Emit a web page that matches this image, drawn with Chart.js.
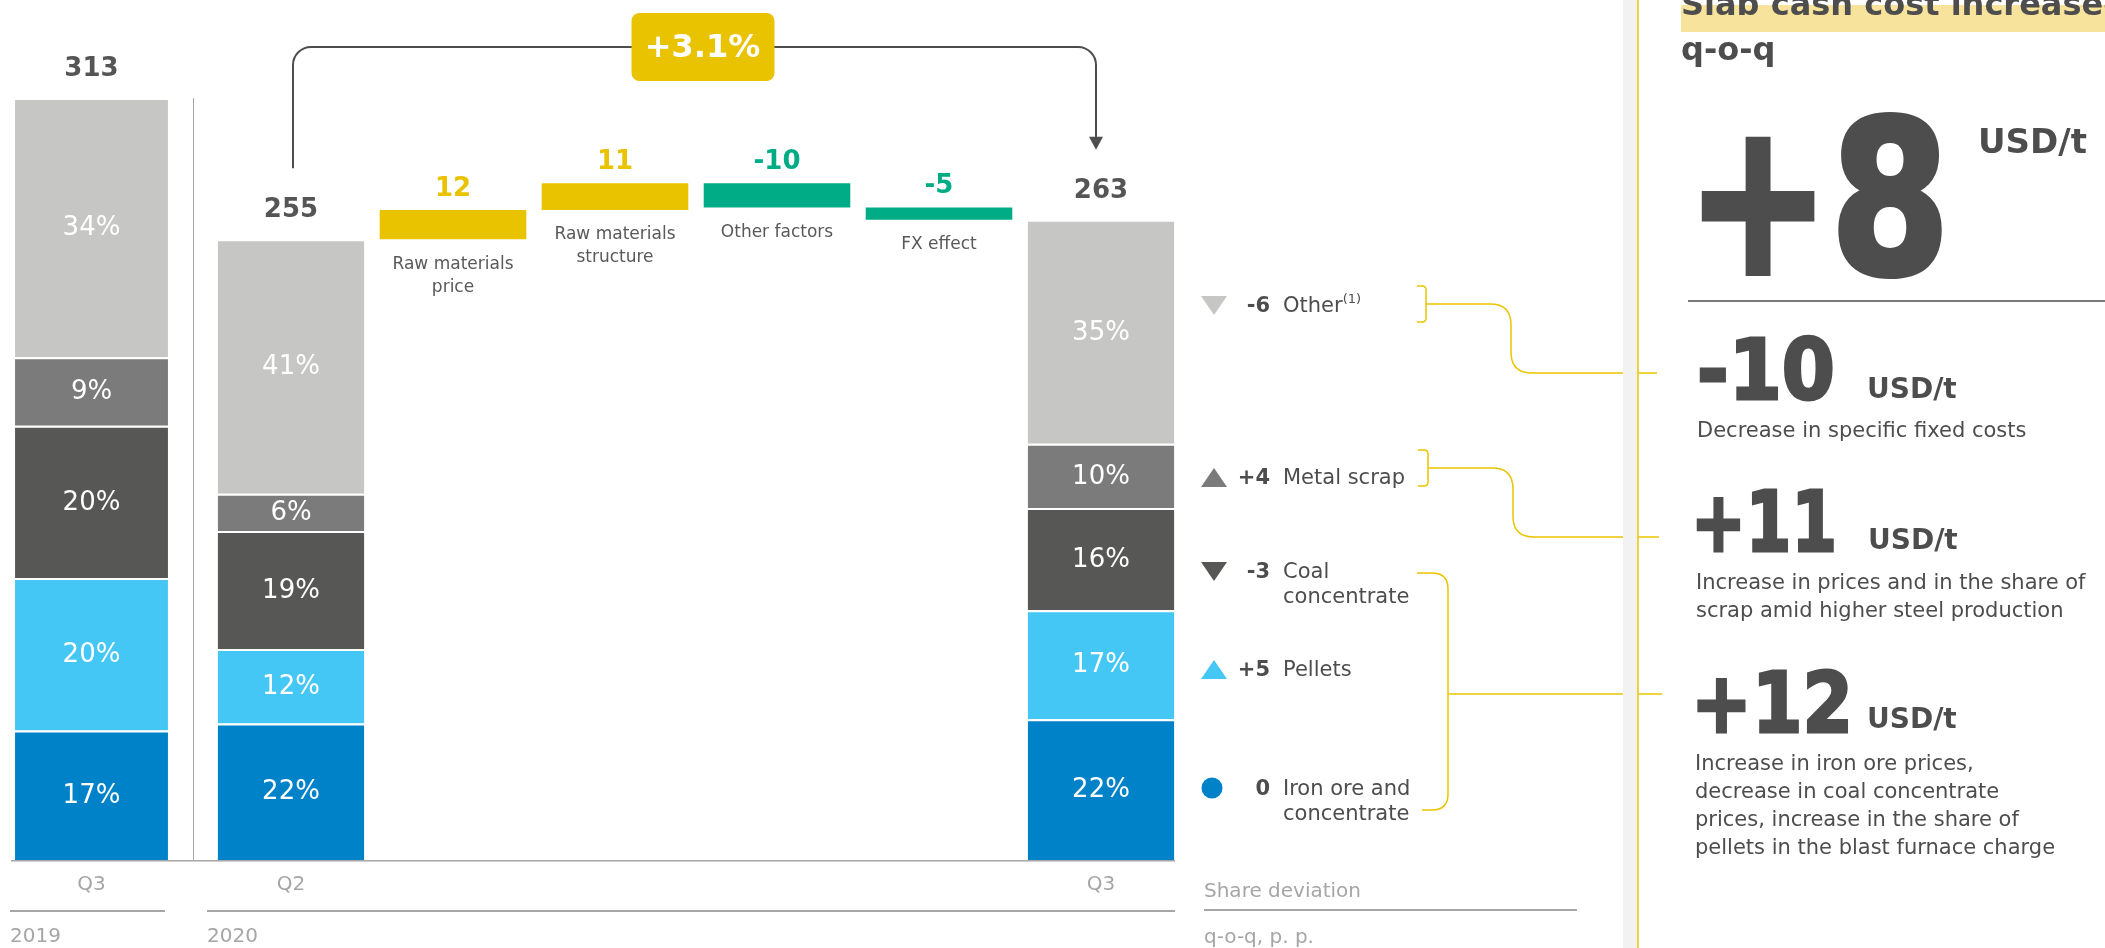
<!DOCTYPE html>
<html>
<head>
<meta charset="utf-8">
<title>Slab cash cost</title>
<script src="https://cdn.jsdelivr.net/npm/chart.js@4.4.1/dist/chart.umd.min.js"></script>
<style>
  body { margin: 0; width: 2105px; height: 948px; overflow: hidden; background: #fff; position: relative; font-family: "DejaVu Sans", Verdana, sans-serif; }
  canvas, svg { position: absolute; left: 0; top: 0; }
  svg text { font-family: "DejaVu Sans", Verdana, sans-serif; }
</style>
</head>
<body>
<canvas id="chart2020" width="1190" height="910"></canvas>
<canvas id="chart2019" width="193" height="910"></canvas>
<svg id="overlay" width="2105" height="948">
  <!-- year rows -->
  <line x1="10" y1="911" x2="165" y2="911" stroke="#A6A6A6" stroke-width="2"/>
  <line x1="207" y1="911" x2="1175" y2="911" stroke="#A6A6A6" stroke-width="2"/>
  <text x="10" y="942" font-size="20" fill="#A6A6A6">2019</text>
  <text x="207" y="942" font-size="20" fill="#A6A6A6">2020</text>
  <text x="1204" y="897" font-size="20" fill="#A6A6A6">Share deviation</text>
  <line x1="1204" y1="910" x2="1577" y2="910" stroke="#A6A6A6" stroke-width="2"/>
  <text x="1204" y="943" font-size="20" fill="#A6A6A6">q-o-q, p. p.</text>

  <g id="legend"></g>

  <!-- brackets -->
  <g fill="none" stroke="#EBC400" stroke-width="1.5">
    <path d="M1417 286 H1422 Q1426 286 1426 290 V318 Q1426 322 1422 322 H1417"/>
    <path d="M1426 304 H1490 Q1511 304 1511 325 V352 Q1511 373 1532 373 H1657"/>
    <path d="M1418 450 H1424 Q1428 450 1428 454 V482 Q1428 486 1424 486 H1418"/>
    <path d="M1428 468 H1492 Q1513 468 1513 489 V516 Q1513 537 1534 537 H1659"/>
    <path d="M1417 573 H1432 Q1448 573 1448 589 V794 Q1448 810 1432 810 H1422"/>
    <path d="M1448 694 H1662"/>
  </g>

  <!-- right panel -->
  <rect x="1623" y="0" width="15" height="948" fill="#F2F2F2"/>
  <line x1="1638" y1="0" x2="1638" y2="948" stroke="#EBC400" stroke-width="1.5"/>
  <rect x="1681" y="5" width="424" height="27" fill="#F7E39B"/>
  <text x="1681" y="15" font-size="32" font-weight="bold" fill="#4D4D4D">Slab cash cost increased</text>
  <text x="1681" y="60" font-size="32" font-weight="bold" fill="#4D4D4D">q-o-q</text>

  <text x="1686" y="273" font-size="212" font-weight="bold" fill="#4D4D4D" stroke="#4D4D4D" stroke-width="6" textLength="264" lengthAdjust="spacingAndGlyphs">+8</text>
  <text x="1978" y="153" font-size="34" font-weight="bold" fill="#4D4D4D">USD/t</text>
  <line x1="1688" y1="301" x2="2105" y2="301" stroke="#4D4D4D" stroke-width="1.5"/>

  <text x="1697" y="399" font-size="84" font-weight="bold" fill="#4D4D4D" stroke="#4D4D4D" stroke-width="3" textLength="138" lengthAdjust="spacingAndGlyphs">-10</text>
  <text x="1867" y="398" font-size="28" font-weight="bold" fill="#4D4D4D">USD/t</text>
  <text x="1697" y="437" font-size="21" fill="#4D4D4D">Decrease in specific fixed costs</text>

  <text x="1691" y="551" font-size="83" font-weight="bold" fill="#4D4D4D" stroke="#4D4D4D" stroke-width="3" textLength="146" lengthAdjust="spacingAndGlyphs">+11</text>
  <text x="1868" y="549" font-size="28" font-weight="bold" fill="#4D4D4D">USD/t</text>
  <text x="1696" y="589" font-size="21" fill="#4D4D4D">Increase in prices and in the share of</text>
  <text x="1696" y="617" font-size="21" fill="#4D4D4D">scrap amid higher steel production</text>

  <text x="1691" y="732" font-size="83" font-weight="bold" fill="#4D4D4D" stroke="#4D4D4D" stroke-width="3" textLength="162" lengthAdjust="spacingAndGlyphs">+12</text>
  <text x="1867" y="728" font-size="28" font-weight="bold" fill="#4D4D4D">USD/t</text>
  <text x="1695" y="770" font-size="21" fill="#4D4D4D">Increase in iron ore prices,</text>
  <text x="1695" y="798" font-size="21" fill="#4D4D4D">decrease in coal concentrate</text>
  <text x="1695" y="826" font-size="21" fill="#4D4D4D">prices, increase in the share of</text>
  <text x="1695" y="854" font-size="21" fill="#4D4D4D">pellets in the blast furnace charge</text>
</svg>

<script>
// components, bottom to top
const componentNames = ['Iron ore and concentrate', 'Pellets', 'Coal concentrate', 'Metal scrap', 'Other'];
const componentLines = [['Iron ore and', 'concentrate'], ['Pellets'], ['Coal', 'concentrate'], ['Metal scrap'], ['Other']];
const componentColors = ['#0082C9', '#45C7F5', '#575756', '#7B7B7B', '#C6C6C5'];

// slab cash cost, USD/t
const totalQ3_2019 = 313;
const totalQ2_2020 = 255;
const totalQ3_2020 = 263;

// share of each component, %
const shareQ3_2019 = [17, 20, 20, 9, 34];
const shareQ2_2020 = [22, 12, 19, 6, 41];
const shareQ3_2020 = [22, 17, 16, 10, 35];

// q-o-q share deviation, p.p.
const shareDeviation = [0, 5, -3, 4, -6];

// waterfall factors
const factorNames = [['Raw materials', 'price'], ['Raw materials', 'structure'], ['Other factors'], ['FX effect']];
const factorValues = [12, 11, -10, -5];
const changeLabel = '+3.1%';

const YELLOW = '#E9C300';
const GREEN = '#00AC86';
const TEXT = '#4D4D4D';
const FONT = '"DejaVu Sans", Verdana, sans-serif';
const Y_MAX = 350;

function shareDatasets(columns) {
  // columns: {total, share} or null for each category
  return componentNames.map((name, i) => ({
    label: name,
    stack: 'share',
    skipNull: true,
    backgroundColor: componentColors[i],
    borderColor: '#fff',
    borderWidth: { top: 2, right: 0, bottom: 0, left: 0 },
    borderSkipped: false,
    data: columns.map(c => c ? c.total * c.share[i] / 100 : null),
    shares: columns.map(c => c ? c.share[i] : null),
    totals: columns.map(c => c ? c.total : null)
  }));
}

const barLabels = {
  id: 'barLabels',
  afterDatasetsDraw(chart) {
    const ctx = chart.ctx;
    const topIndex = componentNames.length - 1;
    ctx.save();
    ctx.textAlign = 'center';
    ctx.textBaseline = 'middle';
    chart.data.datasets.forEach((ds, di) => {
      const meta = chart.getDatasetMeta(di);
      meta.data.forEach((el, i) => {
        if (ds.data[i] === null) return;
        if (ds.stack === 'share') {
          ctx.fillStyle = '#fff';
          ctx.font = '26px ' + FONT;
          ctx.fillText(ds.shares[i] + '%', el.x, (el.y + el.base) / 2 + 1);
          if (di === topIndex) {
            ctx.fillStyle = '#555';
            ctx.font = 'bold 26px ' + FONT;
            ctx.fillText(String(ds.totals[i]), el.x, el.y - 29);
          }
        } else {
          const top = Math.min(el.y, el.base), bottom = Math.max(el.y, el.base);
          const v = ds.values[i];
          ctx.fillStyle = v >= 0 ? YELLOW : GREEN;
          ctx.font = 'bold 26px ' + FONT;
          ctx.fillText(String(v), el.x, top - 21);
          ctx.fillStyle = '#595959';
          ctx.font = '17px ' + FONT;
          const lines = [].concat(chart.data.labels[i]);
          lines.forEach((t, k) => ctx.fillText(t, el.x, bottom + 25 + k * 23));
        }
      });
    });
    ctx.restore();
  }
};

const arrowAndRules = {
  id: 'arrowAndRules',
  afterDatasetsDraw(chart) {
    const { ctx, scales: { x, y }, chartArea } = chart;
    const last = chart.data.labels.length - 1;
    const xa = x.getPixelForValue(0) + 2;
    const xb = x.getPixelForValue(last) - 5;
    const ya = y.getPixelForValue(totalQ2_2020) - 71;
    const yb = y.getPixelForValue(totalQ3_2020) - 70;
    const yTop = 47, r = 18;
    ctx.save();
    ctx.strokeStyle = TEXT;
    ctx.lineWidth = 2;
    ctx.beginPath();
    ctx.moveTo(xa, ya);
    ctx.arcTo(xa, yTop, xa + r, yTop, r);
    ctx.arcTo(xb, yTop, xb, yTop + r, r);
    ctx.lineTo(xb, yb - 12);
    ctx.stroke();
    ctx.fillStyle = TEXT;
    ctx.beginPath();
    ctx.moveTo(xb - 7, yb - 13);
    ctx.lineTo(xb + 7, yb - 13);
    ctx.lineTo(xb, yb);
    ctx.closePath();
    ctx.fill();

    const mid = (xa + xb) / 2 + 8;
    ctx.fillStyle = YELLOW;
    ctx.beginPath();
    ctx.roundRect(mid - 71, 13, 143, 68, 8);
    ctx.fill();
    ctx.fillStyle = '#fff';
    ctx.font = 'bold 32px ' + FONT;
    ctx.textAlign = 'center';
    ctx.textBaseline = 'middle';
    ctx.fillText(changeLabel, mid, 49);

    // baseline across both panels and the 2019 / 2020 separator
    ctx.strokeStyle = '#A6A6A6';
    ctx.lineWidth = 1.5;
    ctx.beginPath();
    ctx.moveTo(11, chartArea.bottom + 0.75);
    ctx.lineTo(1175, chartArea.bottom + 0.75);
    ctx.stroke();
    ctx.lineWidth = 1;
    ctx.beginPath();
    ctx.moveTo(193.5, y.getPixelForValue(totalQ3_2019));
    ctx.lineTo(193.5, chartArea.bottom);
    ctx.stroke();
    ctx.restore();
  }
};

function baseOptions(padLeft, padRight, barPct, tickFilter) {
  return {
    responsive: false,
    animation: false,
    events: [],
    layout: { padding: { left: padLeft, right: padRight, top: 8, bottom: 0 } },
    plugins: { legend: { display: false }, tooltip: { enabled: false } },
    datasets: { bar: { barPercentage: barPct, categoryPercentage: 1 } },
    scales: {
      x: {
        stacked: true,
        grid: { display: false, drawTicks: false },
        border: { display: false },
        afterFit: (scale) => { scale.height = 50; },
        ticks: {
          color: '#A6A6A6',
          font: { family: FONT, size: 20 },
          padding: 13,
          autoSkip: false,
          maxRotation: 0,
          callback: tickFilter
        }
      },
      y: { stacked: true, display: false, min: 0, max: Y_MAX }
    }
  };
}

// 2019 panel
new Chart(document.getElementById('chart2019'), {
  type: 'bar',
  data: {
    labels: ['Q3'],
    datasets: shareDatasets([{ total: totalQ3_2019, share: shareQ3_2019 }])
  },
  options: baseOptions(11, 21, 0.95, function (v) { return this.getLabelForValue(v); }),
  plugins: [barLabels]
});

// 2020 panel: Q2, factors, Q3
let running = totalQ2_2020;
const floatData = [null];
factorValues.forEach(v => { floatData.push([running, running + v]); running += v; });
floatData.push(null);

const labels2020 = ['Q2', ...factorNames, 'Q3'];
const columns2020 = [{ total: totalQ2_2020, share: shareQ2_2020 }, null, null, null, null, { total: totalQ3_2020, share: shareQ3_2020 }];

new Chart(document.getElementById('chart2020'), {
  type: 'bar',
  data: {
    labels: labels2020,
    datasets: [
      ...shareDatasets(columns2020),
      {
        label: 'Factors',
        stack: 'delta',
        skipNull: true,
        data: floatData,
        values: [null, ...factorValues, null],
        backgroundColor: [null, ...factorValues, null].map(v => v === null ? 'rgba(0,0,0,0)' : (v >= 0 ? YELLOW : GREEN)),
        borderWidth: 0
      }
    ]
  },
  options: baseOptions(210, 8, 0.905, function (v, i) {
    return (i === 0 || i === labels2020.length - 1) ? labels2020[i] : '';
  }),
  plugins: [barLabels, arrowAndRules]
});

// legend of share deviations, next to the Q3 2020 bar
const legendRowY = [788, 669, 571, 477, 305];
const ns = 'http://www.w3.org/2000/svg';
const legend = document.getElementById('legend');
function svgEl(tag, attrs, text) {
  const e = document.createElementNS(ns, tag);
  for (const k in attrs) e.setAttribute(k, attrs[k]);
  if (text !== undefined) e.textContent = text;
  legend.appendChild(e);
  return e;
}
componentNames.forEach((name, i) => {
  const cy = legendRowY[i];
  const d = shareDeviation[i];
  if (d === 0) {
    svgEl('circle', { cx: 1212, cy: cy, r: 10.5, fill: componentColors[i] });
  } else if (d > 0) {
    svgEl('polygon', { points: `1201,${cy + 10} 1227,${cy + 10} 1214,${cy - 9}`, fill: componentColors[i] });
  } else {
    svgEl('polygon', { points: `1201,${cy - 9} 1227,${cy - 9} 1214,${cy + 10}`, fill: componentColors[i] });
  }
  svgEl('text', { x: 1270, y: cy + 7, 'font-size': 21, 'font-weight': 'bold', 'text-anchor': 'end', fill: TEXT },
    (d > 0 ? '+' : '') + d);
  componentLines[i].forEach((line, k) => {
    const t = svgEl('text', { x: 1283, y: cy + 7 + k * 25, 'font-size': 21, fill: TEXT }, line);
    if (name === 'Other') {
      const sup = document.createElementNS(ns, 'tspan');
      sup.setAttribute('font-size', 13);
      sup.setAttribute('dy', -9);
      sup.textContent = '(1)';
      t.appendChild(sup);
    }
  });
});
</script>
</body>
</html>
